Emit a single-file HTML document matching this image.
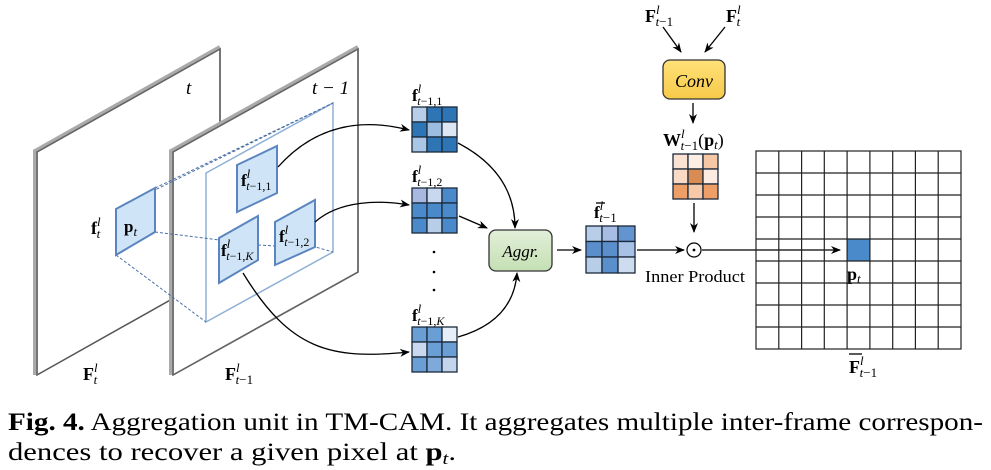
<!DOCTYPE html>
<html><head><meta charset="utf-8"><style>
html,body{margin:0;padding:0;background:#fff;}
svg{display:block;}
text{font-family:"Liberation Serif",serif;}
</style></head><body>
<svg width="991" height="470" viewBox="0 0 991 470" xmlns="http://www.w3.org/2000/svg">
<defs>
<marker id="ar" markerWidth="10" markerHeight="8" refX="9" refY="4" orient="auto" markerUnits="userSpaceOnUse"><path d="M0,0 L10,4 L0,8 L3,4 z" fill="#000"/></marker>
<linearGradient id="yel" x1="0" y1="0" x2="0" y2="1"><stop offset="0" stop-color="#ffe27a"/><stop offset="1" stop-color="#f7c948"/></linearGradient>
<linearGradient id="grn" x1="0" y1="0" x2="0" y2="1"><stop offset="0" stop-color="#e2efd9"/><stop offset="1" stop-color="#c5e0b4"/></linearGradient>
</defs>
<!-- plane t -->
<polygon points="37,152 220,49 220,272 37,375" fill="#fff" stroke="#555" stroke-width="1.5"/>
<polyline points="35,375 35,151 220,47" fill="none" stroke="#aaa" stroke-width="4"/>
<polyline points="37,375 37,152 220,49 220,272" fill="none" stroke="#666" stroke-width="1.5"/>
<text x="186" y="94" font-size="19" font-style="italic">t</text>
<!-- plane t-1 -->
<polygon points="173,152 358,49 358,272 173,375" fill="#fff" stroke="#555" stroke-width="1.5"/>
<polyline points="171,375 171,151 358,47" fill="none" stroke="#aaa" stroke-width="4"/>
<polyline points="173,375 173,152 358,49 358,272 173,375" fill="none" stroke="#666" stroke-width="1.5"/>
<text x="312" y="94" font-size="19" font-style="italic">t − 1</text>
<!-- inner rect -->
<polygon points="206,173 333,103 333,252 206,322" fill="none" stroke="#8fb0d6" stroke-width="1.5"/>
<g stroke="#4a6fa5" stroke-width="1" stroke-dasharray="3,2" fill="none">
<line x1="116" y1="209" x2="333" y2="103"/>
<line x1="155" y1="188" x2="333" y2="103"/>
<line x1="155" y1="232" x2="220" y2="240"/>
<line x1="258" y1="245" x2="276" y2="246"/>
<line x1="312" y1="246" x2="333" y2="252"/>
<line x1="116" y1="255" x2="206" y2="322"/>
</g>
<g fill="#cfe5f7" stroke="#5b85c0" stroke-width="2">
<polygon points="116,209 155,188 155,232 116,255"/>
<polygon points="237,165 277,146 277,193 237,212"/>
<polygon points="275,222 315,200 315,247 275,265"/>
<polygon points="219,238 258,216 258,260 219,283"/>
</g>
<g font-size="17" font-weight="bold">
<text x="124" y="232">p<tspan font-size="13" font-style="italic" font-weight="normal" dy="4">t</tspan></text>
<text x="241" y="186">f<tspan font-size="13" font-style="italic" font-weight="normal" dy="-8">l</tspan><tspan font-size="12" font-weight="normal" dx="-4" dy="12"><tspan font-style="italic">t</tspan>−1,1</tspan></text>
<text x="279" y="242">f<tspan font-size="13" font-style="italic" font-weight="normal" dy="-8">l</tspan><tspan font-size="12" font-weight="normal" dx="-4" dy="12"><tspan font-style="italic">t</tspan>−1,2</tspan></text>
<text x="221" y="256">f<tspan font-size="13" font-style="italic" font-weight="normal" dy="-8">l</tspan><tspan font-size="12" font-weight="normal" dx="-4" dy="12"><tspan font-style="italic">t</tspan>−1,<tspan font-style="italic">K</tspan></tspan></text>
<text x="91" y="234" font-size="18">f<tspan font-size="13" font-style="italic" font-weight="normal" dy="-8">l</tspan><tspan font-size="13" font-style="italic" font-weight="normal" dx="-4" dy="12">t</tspan></text>
<text x="83" y="380" font-size="18">F<tspan font-size="13" font-style="italic" font-weight="normal" dy="-8">l</tspan><tspan font-size="13" font-style="italic" font-weight="normal" dx="-4" dy="12">t</tspan></text>
<text x="225" y="380" font-size="18">F<tspan font-size="13" font-style="italic" font-weight="normal" dy="-8">l</tspan><tspan font-size="13" font-weight="normal" dx="-4" dy="12"><tspan font-style="italic">t</tspan>−1</tspan></text>
</g>
<g fill="none" stroke="#000" stroke-width="1.3">
<path d="M278,167 C320,120 370,120 409,130" marker-end="url(#ar)"/>
<path d="M315,222 C340,200 380,200 409,205" marker-end="url(#ar)"/>
<path d="M243,273 C290,350 330,360 409,352" marker-end="url(#ar)"/>
<path d="M458,143 C500,165 515,195 515,228" marker-end="url(#ar)"/>
<path d="M459,216 L487,228" marker-end="url(#ar)"/>
<path d="M458,337 C500,325 515,300 517,273" marker-end="url(#ar)"/>
<path d="M557,250 L581,250" marker-end="url(#ar)"/>
<path d="M637,250 L684,250" marker-end="url(#ar)"/>
<path d="M663,27 L681,52" marker-end="url(#ar)"/>
<path d="M725,27 L705,52" marker-end="url(#ar)"/>
<path d="M693,103 L693,123" marker-end="url(#ar)"/>
<path d="M694,203 L694,232" marker-end="url(#ar)"/>
<path d="M702,250 L840,250" marker-end="url(#ar)"/>
</g>
<g stroke="#1b2a3a" stroke-width="1.3">
<rect x="412" y="107" width="15" height="15" fill="#b7cde8"/><rect x="427" y="107" width="15" height="15" fill="#2e75b6"/><rect x="442" y="107" width="15" height="15" fill="#2e75b6"/>
<rect x="412" y="122" width="15" height="15" fill="#2e75b6"/><rect x="427" y="122" width="15" height="15" fill="#9dbde0"/><rect x="442" y="122" width="15" height="15" fill="#dde7f3"/>
<rect x="412" y="137" width="15" height="15" fill="#a9c6e6"/><rect x="427" y="137" width="15" height="15" fill="#2e75b6"/><rect x="442" y="137" width="15" height="15" fill="#2e75b6"/>
<rect x="412" y="188" width="15" height="15" fill="#a9b8e0"/><rect x="427" y="188" width="15" height="15" fill="#c9d8ee"/><rect x="442" y="188" width="15" height="15" fill="#4a8acb"/>
<rect x="412" y="203" width="15" height="15" fill="#4a8acb"/><rect x="427" y="203" width="15" height="15" fill="#4a8acb"/><rect x="442" y="203" width="15" height="15" fill="#4a8acb"/>
<rect x="412" y="218" width="15" height="15" fill="#4a8acb"/><rect x="427" y="218" width="15" height="15" fill="#b7cde8"/><rect x="442" y="218" width="15" height="15" fill="#4a8acb"/>
<rect x="412" y="327" width="15" height="15" fill="#6a9fd6"/><rect x="427" y="327" width="15" height="15" fill="#6a9fd6"/><rect x="442" y="327" width="15" height="15" fill="#e6eef7"/>
<rect x="412" y="342" width="15" height="15" fill="#c9d8ee"/><rect x="427" y="342" width="15" height="15" fill="#6a9fd6"/><rect x="442" y="342" width="15" height="15" fill="#6a9fd6"/>
<rect x="412" y="357" width="15" height="15" fill="#6a9fd6"/><rect x="427" y="357" width="15" height="15" fill="#7ea9da"/><rect x="442" y="357" width="15" height="15" fill="#c3d5ec"/>
<rect x="586" y="226" width="16" height="15.5" fill="#b7cde8"/><rect x="602" y="226" width="16" height="15.5" fill="#a8bde3"/><rect x="618" y="226" width="17" height="15.5" fill="#6394cf"/>
<rect x="586" y="241.5" width="16" height="15.5" fill="#5b8fcc"/><rect x="602" y="241.5" width="16" height="15.5" fill="#5b8fcc"/><rect x="618" y="241.5" width="17" height="15.5" fill="#a8c2e6"/>
<rect x="586" y="257" width="16" height="16" fill="#b7cde8"/><rect x="602" y="257" width="16" height="16" fill="#5b8fcc"/><rect x="618" y="257" width="17" height="16" fill="#cddcef"/>
<rect x="673" y="154" width="15" height="15" fill="#fbe3d3"/><rect x="688" y="154" width="15" height="15" fill="#fdeee4"/><rect x="703" y="154" width="15" height="15" fill="#f5c7a5"/>
<rect x="673" y="169" width="15" height="15" fill="#f9dac4"/><rect x="688" y="169" width="15" height="15" fill="#d88b52"/><rect x="703" y="169" width="15" height="15" fill="#fcebe0"/>
<rect x="673" y="184" width="15" height="15" fill="#ee9f67"/><rect x="688" y="184" width="15" height="15" fill="#f6c9a8"/><rect x="703" y="184" width="15" height="15" fill="#ee9f67"/>
</g>
<circle cx="434" cy="252" r="1.3"/><circle cx="434" cy="272" r="1.3"/><circle cx="434" cy="290" r="1.3"/>
<g font-size="17" font-weight="bold">
<text x="412" y="101">f<tspan font-size="13" font-style="italic" font-weight="normal" dy="-8">l</tspan><tspan font-size="12" font-weight="normal" dx="-4" dy="12"><tspan font-style="italic">t</tspan>−1,1</tspan></text>
<text x="412" y="182">f<tspan font-size="13" font-style="italic" font-weight="normal" dy="-8">l</tspan><tspan font-size="12" font-weight="normal" dx="-4" dy="12"><tspan font-style="italic">t</tspan>−1,2</tspan></text>
<text x="412" y="321">f<tspan font-size="13" font-style="italic" font-weight="normal" dy="-8">l</tspan><tspan font-size="12" font-weight="normal" dx="-4" dy="12"><tspan font-style="italic">t</tspan>−1,<tspan font-style="italic">K</tspan></tspan></text>
<text x="594" y="218">f<tspan font-size="13" font-style="italic" font-weight="normal" dy="-8">l</tspan><tspan font-size="13" font-weight="normal" dx="-4" dy="12"><tspan font-style="italic">t</tspan>−1</tspan></text>
<text x="645" y="22" font-size="18">F<tspan font-size="13" font-style="italic" font-weight="normal" dy="-8">l</tspan><tspan font-size="13" font-weight="normal" dx="-4" dy="12"><tspan font-style="italic">t</tspan>−1</tspan></text>
<text x="726" y="22" font-size="18">F<tspan font-size="13" font-style="italic" font-weight="normal" dy="-8">l</tspan><tspan font-size="13" font-style="italic" font-weight="normal" dx="-4" dy="12">t</tspan></text>
<text x="663" y="146" font-size="18">W<tspan font-size="13" font-style="italic" font-weight="normal" dy="-8">l</tspan><tspan font-size="13" font-weight="normal" dx="-4" dy="12"><tspan font-style="italic">t</tspan>−1</tspan><tspan font-weight="normal" dy="-4">(</tspan>p<tspan font-size="13" font-style="italic" font-weight="normal" dy="3">t</tspan><tspan font-weight="normal" dy="-3">)</tspan></text>
<text x="847" y="280" font-size="18">p<tspan font-size="13" font-style="italic" font-weight="normal" dy="3">t</tspan></text>
<text x="849" y="373" font-size="18">F<tspan font-size="13" font-style="italic" font-weight="normal" dy="-8">l</tspan><tspan font-size="13" font-weight="normal" dx="-4" dy="12"><tspan font-style="italic">t</tspan>−1</tspan></text>
</g>
<line x1="596" y1="203" x2="605" y2="203" stroke="#000" stroke-width="1.3"/>
<line x1="849" y1="354" x2="862" y2="354" stroke="#000" stroke-width="1.3"/>
<rect x="489" y="230" width="63" height="41" rx="7" fill="url(#grn)" stroke="#333" stroke-width="1.3"/>
<text x="520.5" y="257" font-size="17" font-style="italic" text-anchor="middle">Aggr.</text>
<rect x="663" y="60" width="62" height="39" rx="7" fill="url(#yel)" stroke="#333" stroke-width="1.3"/>
<text x="694" y="87" font-size="18" font-style="italic" text-anchor="middle">Conv</text>
<circle cx="694" cy="250" r="7" fill="#fff" stroke="#000" stroke-width="1.2"/>
<circle cx="694" cy="250" r="1.4" fill="#000"/>
<text x="645" y="282" font-size="17" textLength="100" lengthAdjust="spacingAndGlyphs">Inner Product</text>
<rect x="847" y="239" width="23" height="22" fill="#4a8acb"/>
<g stroke="#222" stroke-width="1.2" fill="none">
<rect x="756" y="151" width="205" height="198"/>
<path d="M778.8,151V349M801.6,151V349M824.3,151V349M847.1,151V349M869.9,151V349M892.7,151V349M915.4,151V349M938.2,151V349
M756,173H961M756,195H961M756,217H961M756,239H961M756,261H961M756,283H961M756,305H961M756,327H961"/>
</g>
<text x="8" y="430" font-size="25" textLength="975" lengthAdjust="spacingAndGlyphs"><tspan font-weight="bold">Fig. 4.</tspan> Aggregation unit in TM-CAM. It aggregates multiple inter-frame correspon-</text>
<text x="8" y="460" font-size="25" textLength="448" lengthAdjust="spacingAndGlyphs">dences to recover a given pixel at <tspan font-weight="bold">p</tspan><tspan font-size="17" font-style="italic" dy="4">t</tspan><tspan dy="-4">.</tspan></text>
</svg>
</body></html>
